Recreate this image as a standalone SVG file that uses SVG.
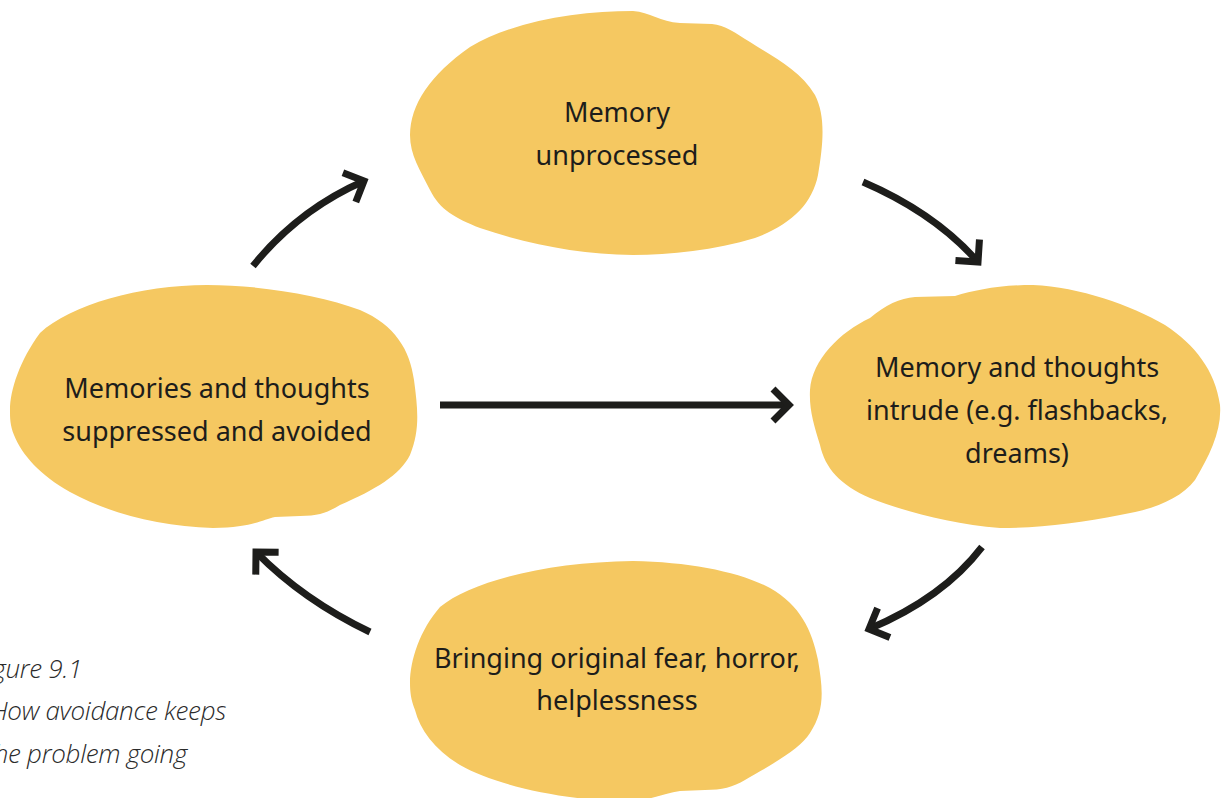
<svg xmlns="http://www.w3.org/2000/svg" width="1222" height="798" viewBox="0 0 1222 798">
<style>
.blob{fill:#F5C861;}
.lbl{font-family:"Noto Sans","Liberation Sans",sans-serif;font-size:27px;fill:#1d1d1b;text-anchor:middle;}
.cap{font-family:"Open Sans","Liberation Sans",sans-serif;font-size:26px;font-style:italic;font-weight:300;fill:#2b2b2b;text-anchor:end;letter-spacing:-0.3px;}
.arr{fill:none;stroke:#1d1d1b;stroke-width:7;marker-end:url(#head);}
</style>
<defs>
<marker id="head" viewBox="0 0 30 30" markerUnits="userSpaceOnUse" markerWidth="30" markerHeight="30" refX="22" refY="15" orient="auto" overflow="visible">
<path d="M6,-1 L22,15 L6,31" fill="none" stroke="#1d1d1b" stroke-width="7" stroke-linejoin="miter"/>
</marker>
</defs>
<rect width="1222" height="798" fill="#ffffff"/>
<g id="node-top">
<path class="blob" d="M410,135 C410,105 430,75 470,47 C515,20 580,11 633,11 C650,12 660,22 680,23 L712,24 C725,25 735,33 750,42 C775,58 800,70 815,95 C825,115 824,140 818,175 C812,205 790,225 755,238 C715,250 670,255 633,255 C580,254 530,245 480,228 C455,218 440,210 430,190 C420,170 410,155 410,135 Z"/>
<text class="lbl" x="617" y="122">Memory</text>
<text class="lbl" x="617" y="165">unprocessed</text>
</g>
<g id="node-left">
<path class="blob" d="M10,410 C10,390 20,360 40,333 C70,305 140,285 207,285 C260,285 320,295 360,310 C395,325 410,350 414,380 C418,410 420,430 410,455 C400,475 375,490 340,505 C328,512 320,516 300,516 L275,517 C262,520 250,528 213,528 C160,526 110,514 70,492 C40,475 22,455 14,435 C10,425 10,418 10,410 Z"/>
<text class="lbl" x="217" y="398">Memories and thoughts</text>
<text class="lbl" x="217" y="441">suppressed and avoided</text>
</g>
<g id="node-right">
<path class="blob" d="M810,390 C812,360 840,332 870,318 C885,305 900,298 915,297 L955,296 C975,290 1000,285 1033,285 C1080,287 1130,305 1165,325 C1195,345 1215,370 1220,405 C1222,430 1210,455 1195,480 C1180,500 1150,510 1120,515 C1080,523 1040,528 1000,528 C950,524 900,510 870,498 C840,485 825,468 820,445 C814,425 809,410 810,390 Z"/>
<text class="lbl" x="1017" y="377">Memory and thoughts</text>
<text class="lbl" x="1017" y="420">intrude (e.g. flashbacks,</text>
<text class="lbl" x="1017" y="463">dreams)</text>
</g>
<g id="node-bottom">
<path class="blob" d="M410,683 C410,660 420,630 440,607 C470,582 545,562 633,561 C690,562 740,572 770,588 C800,605 812,630 818,660 C823,690 825,710 810,733 C800,748 780,760 745,780 C733,787 722,790 705,790 L680,791 C665,793 650,800 630,802 C560,800 495,785 460,765 C435,750 420,730 415,710 C411,700 410,692 410,683 Z"/>
<text class="lbl" x="617" y="668">Bringing original fear, horror,</text>
<text class="lbl" x="617" y="710">helplessness</text>
</g>
<g id="connectors">
<path class="arr" d="M253,266 Q298,210 364,181"/>
<path class="arr" d="M863,182 Q935,213 978,262"/>
<path class="arr" d="M982,547 Q943,598 869,629"/>
<path class="arr" d="M370,632 Q303,600 256,552"/>
<path class="arr" d="M440,405 L789,405"/>
</g>
<g id="caption">
<text class="cap" x="82" y="678">Figure 9.1</text>
<text class="cap" x="226" y="720">How avoidance keeps</text>
<text class="cap" x="187" y="763">the problem going</text>
</g>
</svg>
